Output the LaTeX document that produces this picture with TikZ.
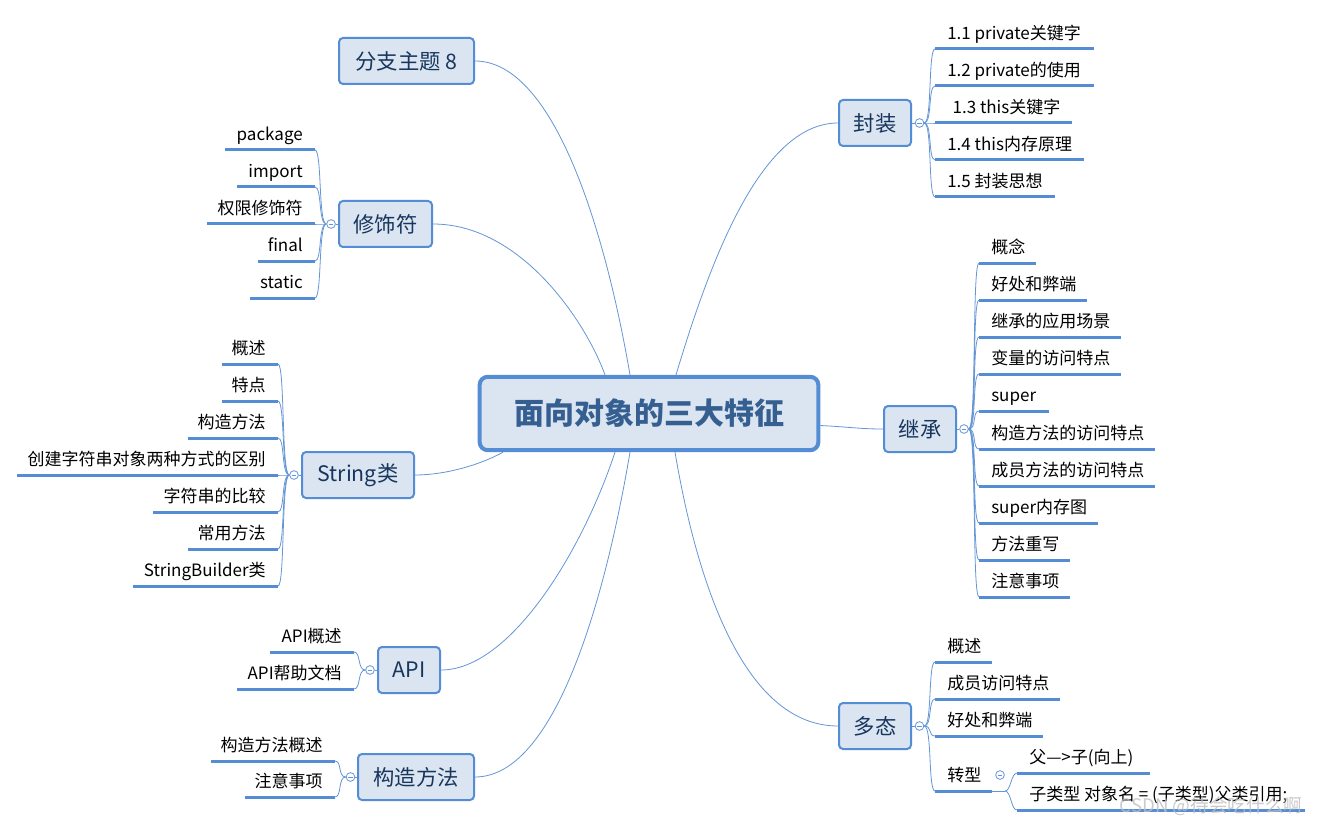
\documentclass[tikz,border=0pt]{standalone}
\usepackage{fontspec}
\setmainfont{Noto Sans CJK SC}
\usetikzlibrary{calc}
\pgfdeclarelayer{bg}
\pgfsetlayers{bg,main}
\definecolor{lblue}{RGB}{84,141,212}
\definecolor{cblue}{RGB}{100,150,215}
\definecolor{boxfill}{RGB}{219,229,241}
\definecolor{topictext}{RGB}{23,54,93}
\definecolor{centertext}{RGB}{54,95,145}
\tikzset{
 topic/.style={draw=lblue, line width=1.5pt, fill=boxfill, rounded corners=3pt, minimum height=34.5pt, inner sep=2pt, text=topictext, font=\fontsize{16}{19}\selectfont},
 central/.style={draw=lblue, line width=3pt, fill=boxfill, rounded corners=6pt, minimum width=254pt, minimum height=55pt, text=centertext, font=\fontsize{22.5}{26}\selectfont\bfseries},
 leaf/.style={inner xsep=9pt, inner ysep=4.2pt, text height=10pt, text depth=3pt, font=\fontsize{12.75}{15}\selectfont},
 uline/.style={draw=lblue, line width=2.25pt},
 conn/.style={draw=cblue, line width=0.6pt},
 coll/.style={circle, draw=cblue, fill=white, line width=0.6pt, minimum size=6.5pt, inner sep=0pt,
   path picture={\draw[cblue, line width=0.6pt] ([xshift=-1.8pt]path picture bounding box.center) -- ([xshift=1.8pt]path picture bounding box.center);}},
}
\newcommand\leafR[5]{\node[leaf,anchor=south west] (#1) at (#2,#3) {#5};\draw[uline] (#1.south west) -- ++(#4,0);}
\newcommand\leafL[5]{\node[leaf,anchor=south east] (#1) at (#2,#3) {#5};\draw[uline] (#1.south east) -- ++(-#4,0);}
\begin{document}
\begin{tikzpicture}[x=0.75pt,y=-0.75pt]
\useasboundingbox (0,0) rectangle (1323,827);

% central and main topics
\node[central] (c) at (649,413.5) {面向对象的三大特征};
\node[topic, minimum width=101.25pt] (f8) at (406.5,61) {分支主题 8};
\node[topic, minimum width=69.75pt] (xs) at (385.5,224) {修饰符};
\node[topic, minimum width=84pt] (str) at (358,475) {String类};
\node[topic, minimum width=46.5pt] (api) at (409,670) {API};
\node[topic, minimum width=87pt] (gz) at (416,777) {构造方法};
\node[topic, minimum width=54pt] (fz) at (875,123) {封装};
\node[topic, minimum width=54pt] (jc) at (920,429) {继承};
\node[topic, minimum width=54pt] (dt) at (875,726) {多态};

% collapse buttons
\node[coll] (fzc) at (919.5,123) {};
\node[coll] (jcc) at (964,429) {};
\node[coll] (dtc) at (919.5,726) {};
\node[coll] (xsc) at (331,224) {};
\node[coll] (strc) at (294,475) {};
\node[coll] (apic) at (370,670) {};
\node[coll] (gzc) at (350.5,777) {};

% 封装
\leafR{a1}{935}{49}{159}{1.1 private关键字}
\leafR{a2}{935}{86}{159}{1.2 private的使用}
\leafR{a3}{935}{123}{137}{\hspace*{4pt}1.3 this关键字}
\leafR{a4}{935}{160}{149}{1.4 this内存原理}
\leafR{a5}{935}{197}{120}{1.5 封装思想}

% 继承
\leafR{b1}{979}{263}{57}{概念}
\leafR{b2}{979}{300}{108}{好处和弊端}
\leafR{b3}{979}{337}{142}{继承的应用场景}
\leafR{b4}{979}{374}{142}{变量的访问特点}
\leafR{b5}{979}{411}{70}{super}
\leafR{b6}{979}{449}{176}{构造方法的访问特点}
\leafR{b7}{979}{486}{176}{成员方法的访问特点}
\leafR{b8}{979}{523}{119}{super内存图}
\leafR{b9}{979}{560}{91}{方法重写}
\leafR{b10}{979}{597}{91}{注意事项}

% 多态
\leafR{d1}{935}{662}{57}{概述}
\leafR{d2}{935}{699}{125}{成员访问特点}
\leafR{d3}{935}{736}{108}{好处和弊端}
\leafR{d4}{935}{791}{57}{转型}
\node[coll] (d4c) at (1000,775) {};
\leafR{t1}{1017}{773}{133}{父—>子(向上)}
\leafR{t2}{1017}{810}{288}{子类型 对象名 = (子类型)父类引用;}

% 修饰符
\leafL{m1}{315}{150}{90}{package}
\leafL{m2}{315}{187}{78}{import}
\leafL{m3}{315}{224}{108}{权限修饰符}
\leafL{m4}{315}{261}{57}{final}
\leafL{m5}{315}{298}{65}{static}

% String类
\leafL{g1}{278}{364}{56}{概述}
\leafL{g2}{278}{401}{56}{特点}
\leafL{g3}{278}{438}{90}{构造方法}
\leafL{g4}{278}{475}{261}{创建字符串对象两种方式的区别}
\leafL{g5}{278}{512}{125}{字符串的比较}
\leafL{g6}{278}{549}{90}{常用方法}
\leafL{g7}{278}{586}{145}{StringBuilder类}

% API
\leafL{p1}{354}{652}{84}{API概述}
\leafL{p2}{354}{689}{117}{API帮助文档}

% 构造方法
\leafL{k1}{335}{761}{124}{构造方法概述}
\leafL{k2}{335}{797}{90}{注意事项}

\node[text=gray!50, opacity=0.8, font=\fontsize{14}{16}\selectfont] (wm) at (1211,806) {CSDN @待会吃什么啊};

\begin{pgfonlayer}{bg}
\fill[white] (0,0) rectangle (1323,827);
% main branches
\draw[conn] ($(c.north)+(-19,0)$) .. controls (606,235) and (555,61) .. (f8.east);
\draw[conn] ($(c.north)+(-44,0)$) .. controls (585,320) and (520,224) .. (xs.east);
\draw[conn] ($(c.north)+(27,0)$) .. controls (709,265) and (760,123) .. (fz.west);
\draw[conn] ($(c.east)+(0,12)$) .. controls (850,427) and (860,429) .. (jc.west);
\draw[conn] ($(c.south)+(-146,0)$) .. controls (480,465) and (445,475) .. (str.east);
\draw[conn] ($(c.south)+(-34,0)$) .. controls (582,552) and (510,670) .. (api.east);
\draw[conn] ($(c.south)+(-19,0)$) .. controls (605,600) and (555,777) .. (gz.east);
\draw[conn] ($(c.south)+(26,0)$) .. controls (700,600) and (750,726) .. (dt.west);
% topic to button
\draw[conn] (fz.east) -- (fzc.west);
\draw[conn] (jc.east) -- (jcc.west);
\draw[conn] (dt.east) -- (dtc.west);
\draw[conn] (xs.west) -- (xsc.east);
\draw[conn] (str.west) -- (strc.east);
\draw[conn] (api.west) -- (apic.east);
\draw[conn] (gz.west) -- (gzc.east);
% button to leaves
\foreach \n in {a1,a2,a3,a4,a5}
  \draw[conn] (fzc.east) .. controls +(8,0) and +(-7,0) .. (\n.south west);
\foreach \n in {b1,b2,b3,b4,b5,b6,b7,b8,b9,b10}
  \draw[conn] (jcc.east) .. controls +(8,0) and +(-7,0) .. (\n.south west);
\foreach \n in {d1,d2,d3,d4}
  \draw[conn] (dtc.east) .. controls +(8,0) and +(-7,0) .. (\n.south west);
\foreach \n in {m1,m2,m3,m4,m5}
  \draw[conn] (xsc.west) .. controls +(-8,0) and +(7,0) .. (\n.south east);
\foreach \n in {g1,g2,g3,g4,g5,g6,g7}
  \draw[conn] (strc.west) .. controls +(-8,0) and +(7,0) .. (\n.south east);
\foreach \n in {p1,p2}
  \draw[conn] (apic.west) .. controls +(-8,0) and +(7,0) .. (\n.south east);
\foreach \n in {k1,k2}
  \draw[conn] (gzc.west) .. controls +(-8,0) and +(7,0) .. (\n.south east);
% 转型 sub-branch
\draw[conn] ($(d4.south west)+(57,0)$) -- ++(13,0) coordinate (zj);
\draw[conn] (zj) .. controls +(6,0) and +(-6,0) .. (t1.south west);
\draw[conn] (zj) .. controls +(6,0) and +(-6,0) .. (t2.south west);
\end{pgfonlayer}
\end{tikzpicture}
\end{document}
